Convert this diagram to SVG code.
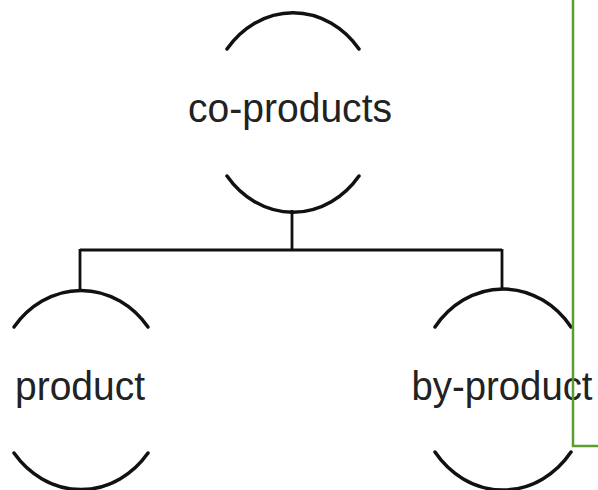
<svg xmlns="http://www.w3.org/2000/svg" width="598" height="490" viewBox="0 0 598 490">
<style>
.arc{fill:none;stroke:#111;stroke-width:3.5;stroke-linecap:round}
.conn{fill:none;stroke:#111;stroke-width:2.8}
.lbl{font-family:"Liberation Sans",Arial,sans-serif;font-size:40px;fill:#222;text-anchor:middle}
</style>
<rect width="598" height="490" fill="#fff"/>
<g id="connectors">
<path class="conn" d="M292 210 V250 M80 250 H502 M80 249 V292 M502 249 V290"/>
</g>
<g id="co-products">
<path class="arc" d="M227 49 A85 98 0 0 1 359 49"/>
<path class="arc" d="M227 176 A85 98 0 0 0 359 176"/>
<text class="lbl" x="290" y="122" textLength="204" lengthAdjust="spacingAndGlyphs">co-products</text>
</g>
<g id="product">
<path class="arc" d="M14 327 A86 98 0 0 1 148 327"/>
<path class="arc" d="M14 453 A86 98 0 0 0 148 453"/>
<text class="lbl" x="80" y="400" textLength="130" lengthAdjust="spacingAndGlyphs">product</text>
</g>
<g id="by-product">
<path class="arc" d="M435 327 A86 98 0 0 1 571 327"/>
<path class="arc" d="M435 452 A86 98 0 0 0 571 452"/>
<text class="lbl" x="502" y="400" textLength="181" lengthAdjust="spacingAndGlyphs">by-product</text>
</g>
<path d="M573 0 V446 H598" fill="none" stroke="#5a9e32" stroke-width="2.5"/>
</svg>
